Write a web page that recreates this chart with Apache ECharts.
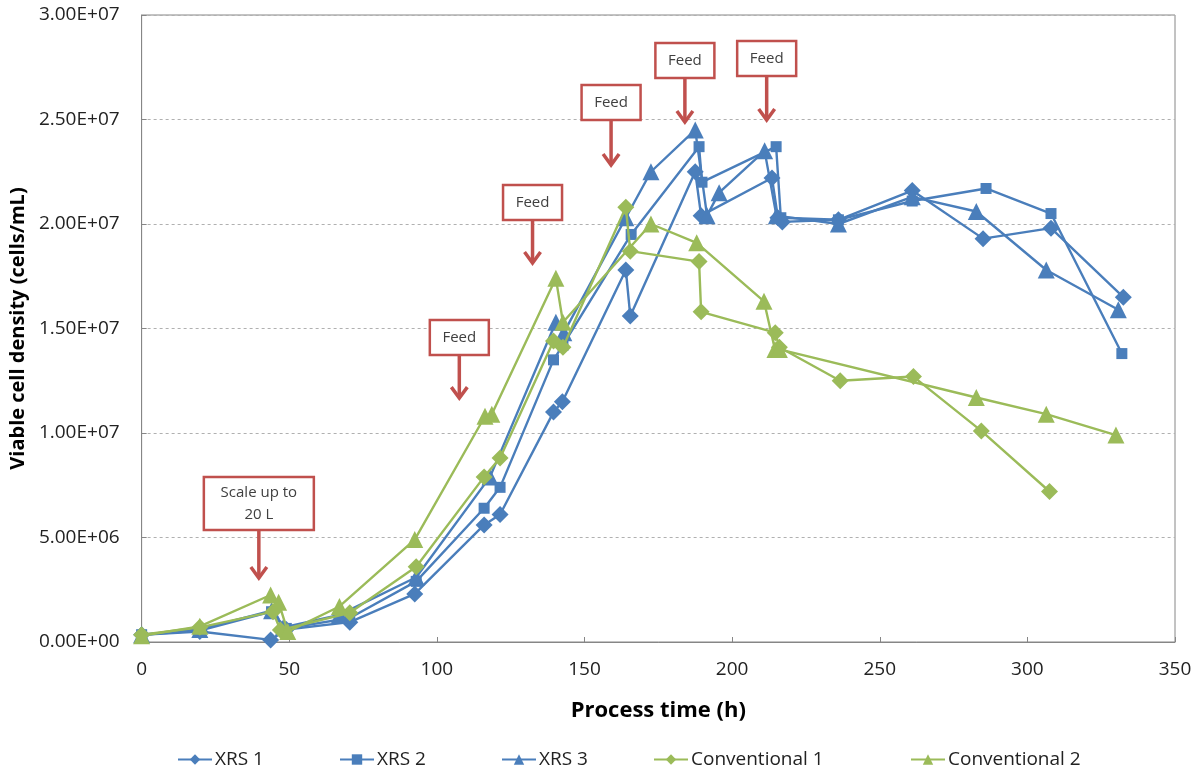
<!DOCTYPE html>
<html>
<head>
<meta charset="utf-8">
<script src="https://cdn.jsdelivr.net/npm/echarts@6/dist/echarts.min.js"></script>
<style>
html,body{margin:0;padding:0;background:#fff;}
#chart{width:1200px;height:780px;}
</style>
</head>
<body>
<div id="chart"></div>
<script>
// ---- Data (process time h, viable cell density cells/mL) ----
const xrs1Time = [0,19.7,43.7,49,70.5,92.5,116,121.4,139.5,142.5,164,165.5,187.5,189.5,213.5,215.5,217,236,261,285,308,332.5];
const xrs1Vcd  = [0.35e6,0.5e6,0.1e6,0.6e6,0.95e6,2.3e6,5.6e6,6.1e6,11.0e6,11.5e6,17.8e6,15.6e6,22.5e6,20.4e6,22.2e6,20.3e6,20.1e6,20.2e6,21.6e6,19.3e6,19.8e6,16.5e6];

const xrs2Time = [0,19.7,44,49,70.5,93,116,121.4,139.5,142.7,165.8,188.8,189.8,214.9,216.5,236,261,286,308,332];
const xrs2Vcd  = [0.35e6,0.55e6,1.45e6,0.65e6,1.15e6,2.9e6,6.4e6,7.4e6,13.5e6,14.2e6,19.5e6,23.7e6,22.0e6,23.7e6,20.3e6,20.2e6,21.1e6,21.7e6,20.5e6,13.8e6];

const xrs3Time = [0,19.7,44,48,67,93,118,140.3,143,164,172.5,187.5,191.5,195.6,211,215,236,261,282.7,306.4,330.8];
const xrs3Vcd  = [0.35e6,0.6e6,1.5e6,0.7e6,1.3e6,3.1e6,7.9e6,15.3e6,14.8e6,20.3e6,22.5e6,24.5e6,20.4e6,21.5e6,23.5e6,20.4e6,20.0e6,21.3e6,20.6e6,17.8e6,15.9e6];

const conv1Time = [0,19.7,44.5,47,70.5,93,116,121.4,139.5,142.7,164,165.5,188.8,189.5,214.6,216,236.6,261.4,284.4,307.5];
const conv1Vcd  = [0.35e6,0.7e6,1.45e6,0.57e6,1.4e6,3.6e6,7.9e6,8.8e6,14.4e6,14.1e6,20.8e6,18.7e6,18.2e6,15.8e6,14.8e6,14.1e6,12.5e6,12.7e6,10.1e6,7.2e6];

const conv2Time = [0,19.7,43.7,46.4,49.5,67,92.5,116.3,118.6,140.3,142.7,172.5,188,210.8,214.5,216,282.7,306.4,330];
const conv2Vcd  = [0.3e6,0.75e6,2.25e6,1.9e6,0.5e6,1.7e6,4.9e6,10.8e6,10.9e6,17.4e6,15.3e6,20.0e6,19.1e6,16.3e6,14.0e6,14.0e6,11.7e6,10.9e6,9.9e6];

const seriesNames = ['XRS 1','XRS 2','XRS 3','Conventional 1','Conventional 2'];
const xTicks = [0,50,100,150,200,250,300,350];
const yTicks = [0,5e6,1e7,1.5e7,2e7,2.5e7,3e7];

// Annotations (label, time of arrow, arrow tip value, box top value)
const annoLabels  = ['Scale up to\n20 L','Feed','Feed','Feed','Feed','Feed'];
const annoTimes   = [39.7,107.6,132.4,159,184,211.7];
const annoTipVcd  = [3.06e6,11.67e6,18.13e6,22.82e6,24.88e6,24.98e6];
const annoTopVcd  = [7.89e6,15.41e6,21.87e6,26.65e6,28.66e6,28.76e6];

// ---- Styles ----
const BLUE = '#4a7ebb', GREEN = '#9bbb59', RED = '#c0504d';
const FONT = '"Open Sans", "Noto Sans", sans-serif';
const symbols = ['diamond','rect','triangle','diamond','triangle'];
const symSizes = [17,11,17,17,17];
const colors = [BLUE,BLUE,BLUE,GREEN,GREEN];
const times = [xrs1Time,xrs2Time,xrs3Time,conv1Time,conv2Time];
const vals = [xrs1Vcd,xrs2Vcd,xrs3Vcd,conv1Vcd,conv2Vcd];
const legendLefts = [172,334,496,648,905];

function sci(v){
  if (v === 0) return '0.00E+00';
  const e = Math.floor(Math.log10(v) + 1e-9);
  const m = v / Math.pow(10, e);
  return m.toFixed(2) + 'E' + (e < 0 ? '-' : '+') + String(Math.abs(e)).padStart(2,'0');
}

const chart = echarts.init(document.getElementById('chart'));
const series = seriesNames.map((name, i) => ({
  name: name,
  type: 'line',
  data: times[i].map((t, k) => [t, vals[i][k]]),
  symbol: symbols[i],
  symbolSize: symSizes[i],
  showAllSymbol: true,
  color: colors[i],
  lineStyle: {width: 2.4, color: colors[i]},
  itemStyle: {color: colors[i]},
  z: 3 + i,
  animation: false
}));

const legends = seriesNames.map((name, i) => ({
  data: [name], top: 745, left: legendLefts[i], itemWidth: 34, itemHeight: 13, itemGap: 0,
  textStyle: {fontFamily: FONT, fontSize: 19, color: '#222', padding: [0,0,0,-2]}
}));

chart.setOption({
  animation: false,
  backgroundColor: '#fff',
  grid: {left: 140, right: 25, top: 15, bottom: 138, show: true, borderColor: '#868686', borderWidth: 1, containLabel: false},
  xAxis: {
    type: 'value', min: xTicks[0], max: xTicks[xTicks.length-1], interval: 50,
    name: 'Process time (h)', nameLocation: 'middle', nameGap: 58,
    nameTextStyle: {fontFamily: FONT, fontSize: 22, fontWeight: 'bold', color: '#000'},
    axisLine: {lineStyle: {color: '#868686', width: 1}},
    axisTick: {inside: true, length: 5, lineStyle: {color: '#868686'}},
    axisLabel: {fontFamily: FONT, fontSize: 19, color: '#222', margin: 18},
    splitLine: {show: false}
  },
  yAxis: {
    type: 'value', min: yTicks[0], max: yTicks[yTicks.length-1], interval: 5e6,
    name: 'Viable cell density (cells/mL)', nameLocation: 'middle', nameGap: 110,
    nameTextStyle: {fontFamily: FONT, fontSize: 20, fontWeight: 'bold', color: '#000'},
    axisLine: {show: true, lineStyle: {color: '#868686', width: 1}},
    axisTick: {show: true, inside: true, length: 5, lineStyle: {color: '#868686'}},
    axisLabel: {fontFamily: FONT, fontSize: 19, color: '#222', margin: 22, formatter: sci},
    splitLine: {show: true, lineStyle: {color: '#b0b0b0', type: [3,3], width: 1}}
  },
  legend: legends,
  series: series
});

// Annotation boxes with arrows, positioned via the chart's own scales
const gfx = [];
annoLabels.forEach((lab, i) => {
  const tip = chart.convertToPixel({gridIndex: 0}, [annoTimes[i], annoTipVcd[i]]);
  const top = chart.convertToPixel({gridIndex: 0}, [annoTimes[i], annoTopVcd[i]]);
  const twoLine = lab.indexOf('\n') >= 0;
  const w = twoLine ? 110 : 59, h = twoLine ? 53 : 35;
  const cx = tip[0], ty = top[1];
  gfx.push({type: 'rect', shape: {x: cx - w/2, y: ty, width: w, height: h},
    style: {fill: '#fff', stroke: RED, lineWidth: 2.5}, z: 20});
  gfx.push({type: 'text', x: cx, y: ty + h/2,
    style: {text: lab, fontFamily: FONT, fontSize: 15, fill: '#404040', align: 'center', verticalAlign: 'middle', lineHeight: 22}, z: 21});
  gfx.push({type: 'line', shape: {x1: cx, y1: ty + h, x2: cx, y2: tip[1] - 2},
    style: {stroke: RED, lineWidth: 3.5}, z: 20});
  gfx.push({type: 'polyline', shape: {points: [[cx - 8, tip[1] - 11], [cx, tip[1]], [cx + 8, tip[1] - 11]]},
    style: {stroke: RED, lineWidth: 3.5, fill: null, lineJoin: 'miter'}, z: 20});
});
chart.setOption({graphic: gfx});
</script>
</body>
</html>
